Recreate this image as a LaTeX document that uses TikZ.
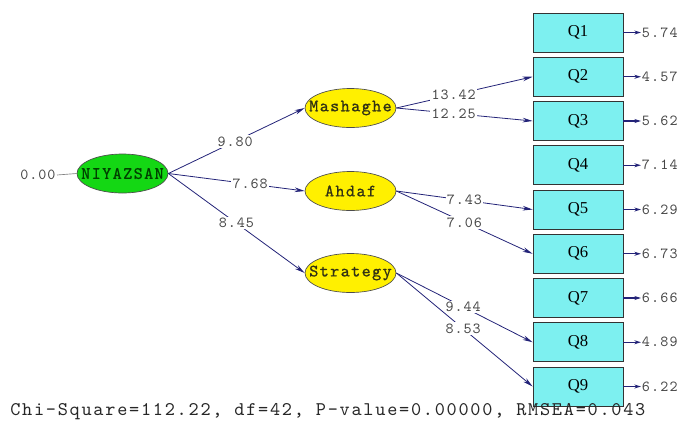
\documentclass[tikz,border=0pt]{standalone}
\usepackage{fontspec}
\setmainfont{Liberation Serif}
\newfontfamily\coeffont[LetterSpace=6.2]{lmmono10-regular.otf}
\newfontfamily\errfont[LetterSpace=7.8]{lmmono10-regular.otf}
\newfontfamily\ellfont[LetterSpace=8,FakeBold=0.8]{lmmono10-regular.otf}
\newfontfamily\fitfont[LetterSpace=9]{lmmono10-regular.otf}
\usetikzlibrary{arrows.meta,shapes.geometric}
\definecolor{boxfill}{RGB}{125,240,240}
\definecolor{ellyel}{RGB}{255,240,0}
\definecolor{ellgreen}{RGB}{20,215,20}
\definecolor{navy}{RGB}{35,35,120}
\definecolor{lbl}{RGB}{70,70,70}
\definecolor{elltext}{RGB}{50,50,20}
\newcommand{\zw}[1]{\makebox[0pt]{#1}}
\tikzset{
  obsbox/.style={draw=black!80, line width=0.6pt, fill=boxfill, minimum width=67.5pt, minimum height=29.25pt, inner sep=0pt, font=\fontsize{12.5}{12.5}\selectfont},
  latent/.style={ellipse, draw=black!70, line width=0.5pt, minimum width=68.25pt, minimum height=29.25pt, inner sep=0pt, font=\ellfont\fontsize{13}{13}\selectfont, text=elltext},
  path/.style={draw=navy, line width=0.6pt, -{Stealth[length=7.5pt,width=3.5pt]}},
  errarrow/.style={draw=navy, line width=0.8pt, -{Stealth[length=5pt,width=3pt]}},
  coef/.style={fill=white, inner sep=1pt, text=lbl, font=\coeffont\fontsize{11.5}{11.5}\selectfont},
  errval/.style={inner sep=0.5pt, anchor=west, text=lbl, font=\errfont\fontsize{11.5}{11.5}\selectfont}
}
\begin{document}
\begin{tikzpicture}[x=0.75pt,y=-0.75pt]
\useasboundingbox (0,0) rectangle (682,429);
% observed boxes
\foreach \i in {1,...,9} {
  \node[obsbox] (Q\i) at (578,{32.5+(\i-1)*44.25}) {Q\i};
}
% error values
\foreach \i/\v in {1/5.74,2/4.57,3/5.62,4/7.14,5/6.29,6/6.73,7/6.66,8/4.89,9/6.22} {
  \node[errval] (E\i) at (641,{32.5+(\i-1)*44.25}) {\v};
  \draw[errarrow] (Q\i.east) -- (E\i.west);
}
% latent variables
\node[latent, fill=ellgreen, text=black!75!green] (N) at (122.5,173.5) {\zw{NIYAZSAN}};
\node[latent, fill=ellyel] (M) at (350.5,108) {\zw{Mashaghe}};
\node[latent, fill=ellyel] (A) at (350.5,191) {\zw{Ahdaf}};
\node[latent, fill=ellyel] (S) at (350.5,273) {\zw{Strategy}};
% variance of NIYAZSAN
\node[coef, fill=none, anchor=east] (V) at (57,175) {0.00};
\draw[gray, line width=0.5pt] (V.east) -- (N.west);
% structural paths
\draw[path] (N.east) -- node[coef, pos=0.49] {9.80} (M.west);
\draw[path] (N.east) -- node[coef, pos=0.6] {7.68} (A.west);
\draw[path] (N.east) -- node[coef, pos=0.5] {8.45} (S.west);
% measurement paths
\draw[path] (M.east) -- node[coef, pos=0.42] {13.42} (Q2.west);
\draw[path] (M.east) -- node[coef, pos=0.42] {12.25} (Q3.west);
\draw[path] (A.east) -- node[coef, pos=0.5] {7.43} (Q5.west);
\draw[path] (A.east) -- node[coef, pos=0.5] {7.06} (Q6.west);
\draw[path] (S.east) -- node[coef, pos=0.49] {9.44} (Q8.west);
\draw[path] (S.east) -- node[coef, pos=0.49] {8.53} (Q9.west);
% fit statistics
\node[anchor=west, inner sep=0pt, text=black!85, font=\fitfont\fontsize{14.5}{14.5}\selectfont] (fit) at (10,412) {Chi-Square=112.22, df=42, P-value=0.00000, RMSEA=0.043};
\end{tikzpicture}
\end{document}
